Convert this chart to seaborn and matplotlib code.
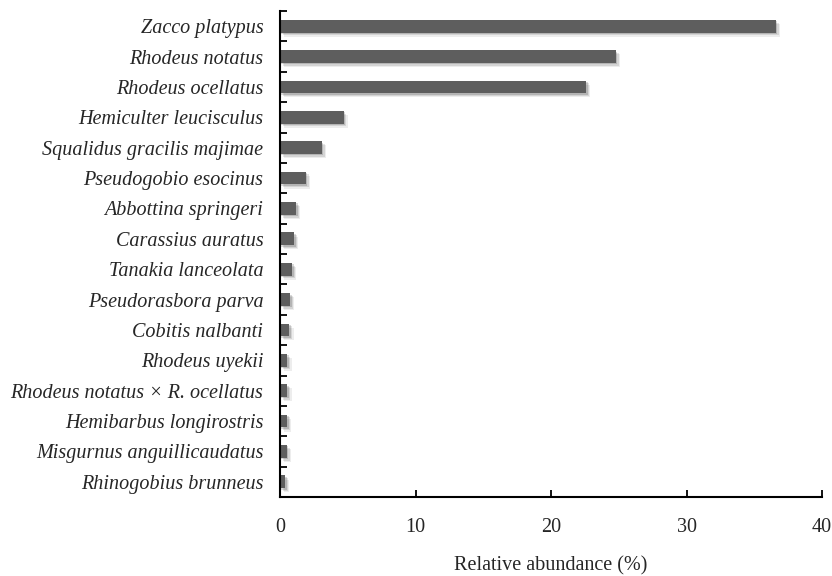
import matplotlib
matplotlib.use("Agg")
import matplotlib.pyplot as plt
import matplotlib.patheffects as pe
import seaborn as sns
import pandas as pd

species = [
    "Zacco platypus",
    "Rhodeus notatus",
    "Rhodeus ocellatus",
    "Hemiculter leucisculus",
    "Squalidus gracilis majimae",
    "Pseudogobio esocinus",
    "Abbottina springeri",
    "Carassius auratus",
    "Tanakia lanceolata",
    "Pseudorasbora parva",
    "Cobitis nalbanti",
    "Rhodeus uyekii",
    "Rhodeus notatus × R. ocellatus",
    "Hemibarbus longirostris",
    "Misgurnus anguillicaudatus",
    "Rhinogobius brunneus",
]
abundance = [36.6, 24.8, 22.6, 4.7, 3.1, 1.9, 1.2, 1.05, 0.9, 0.75, 0.7, 0.55, 0.55, 0.53, 0.52, 0.38]
x_ticks = [0, 10, 20, 30, 40]

df = pd.DataFrame({"species": species, "abundance": abundance})

sns.set_style("white")
plt.rcParams["font.family"] = ["Liberation Serif", "DejaVu Serif"]

fig = plt.figure(figsize=(8.32, 5.76), dpi=100)
ax = fig.add_axes([280 / 832, 1 - 497 / 576, 542 / 832, 486 / 576])

sns.barplot(data=df, x="abundance", y="species", orient="h", color="#5e5e5e",
            saturation=1, width=0.42, ax=ax)

# soft drop shadow under each bar
shadow = [
    pe.SimplePatchShadow(offset=(3, -3), shadow_rgbFace="k", alpha=0.07),
    pe.SimplePatchShadow(offset=(2, -2), shadow_rgbFace="k", alpha=0.10),
    pe.SimplePatchShadow(offset=(1, -1), shadow_rgbFace="k", alpha=0.15),
    pe.Normal(),
]
for p in ax.patches:
    p.set_edgecolor("none")
    p.set_path_effects(shadow)

ax.set_xlim(0, 40)
ax.set_ylim(len(species) - 0.5, -0.5)
ax.set_xticks(x_ticks)
ax.set_xticklabels([str(t) for t in x_ticks], fontsize=14.5)
ax.set_yticks(range(len(species)))
ax.set_yticklabels(species, fontsize=14.5, style="italic")
ax.set_yticks([i - 0.5 for i in range(len(species) + 1)], minor=True)

ax.tick_params(axis="y", which="major", left=True, length=0, pad=12)
ax.tick_params(axis="y", which="minor", left=True, direction="in", length=5,
               width=1.3, color="black")
ax.tick_params(axis="x", which="major", bottom=True, direction="in", length=5,
               width=1.3, color="black", pad=15)

ax.set_xlabel("Relative abundance (%)", fontsize=14.5, labelpad=14)
ax.set_ylabel("")

for s in ["top", "right"]:
    ax.spines[s].set_visible(False)
for s in ["left", "bottom"]:
    ax.spines[s].set_color("black")
    ax.spines[s].set_linewidth(1.5)

fig.savefig("out.png", dpi=100)
